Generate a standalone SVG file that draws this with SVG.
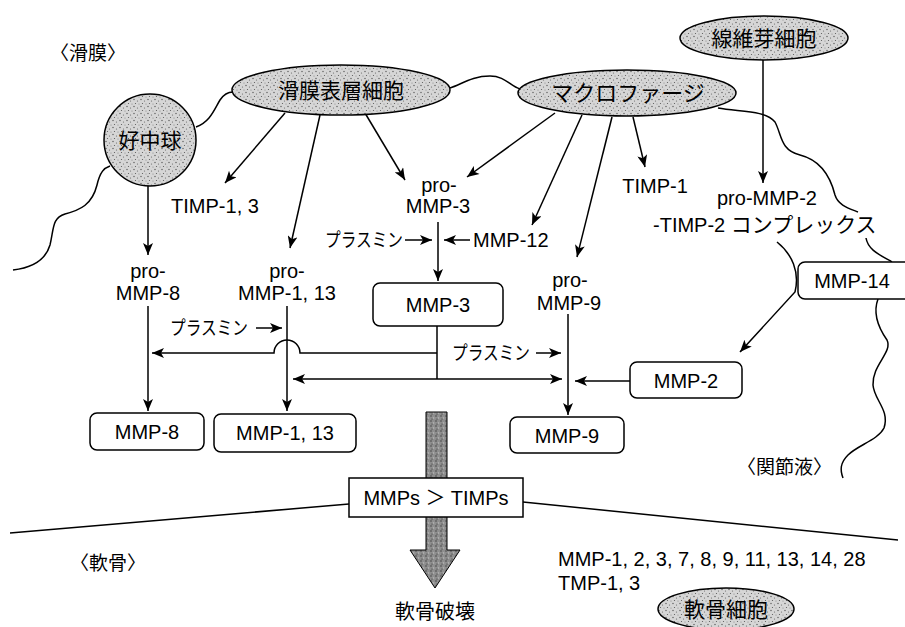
<svg xmlns="http://www.w3.org/2000/svg" width="905" height="627" viewBox="0 0 905 627">
<style>
.ln{fill:none;stroke:#000;stroke-width:1.5}
.ar{fill:none;stroke:#000;stroke-width:1.5;marker-end:url(#ah)}
.bx{fill:#fff;stroke:#000;stroke-width:1.5}
.cell{fill:url(#stip);stroke:#000;stroke-width:1.5}
.t{font-family:"Liberation Sans",Arial,"Noto Sans CJK JP",sans-serif;font-size:20px;fill:#000}
.j{font-family:"Noto Sans CJK JP","Noto Sans",sans-serif;font-size:21px;fill:#000}
.m{text-anchor:middle}
</style>
<defs>
<marker id="ah" viewBox="0 0 12 10" refX="12" refY="5" markerWidth="13" markerHeight="10" orient="auto" markerUnits="userSpaceOnUse">
<path d="M0,0 L12,5 L0,10 L3,5 z" fill="#000"/>
</marker>
<pattern id="stip" width="7" height="7" patternUnits="userSpaceOnUse">
<rect width="7" height="7" fill="#d6d6d6"/>
<circle cx="1" cy="1.5" r="0.7" fill="#555"/>
<circle cx="4.5" cy="3" r="0.6" fill="#666"/>
<circle cx="2.5" cy="5.5" r="0.6" fill="#555"/>
<circle cx="6" cy="6" r="0.5" fill="#777"/>
</pattern>
<pattern id="stip2" width="5" height="5" patternUnits="userSpaceOnUse">
<rect width="5" height="5" fill="#8e8e8e"/>
<circle cx="1" cy="1" r="0.8" fill="#444"/>
<circle cx="3.5" cy="3" r="0.8" fill="#bbb"/>
<circle cx="2" cy="4" r="0.6" fill="#333"/>
</pattern>
</defs>

<!-- membrane / boundary lines -->
<g id="boundaries">
<path class="ln" d="M13,270 C30,268 45,262 50,245 C54,228 52,218 65,214 C80,210 92,205 97,185 C100,172 104,168 110,166"/>
<path class="ln" d="M196,127 C210,122 214,110 220,100 C224,94 228,92 233,92"/>
<path class="ln" d="M450,88 C462,84 472,76 490,76 C505,76 510,86 520,89"/>
<path class="ln" d="M718,108 C740,112 765,110 775,122 C782,135 780,150 800,155 C820,160 830,175 835,195 C838,205 848,208 858,212"/>
<path class="ln" d="M866,238 C868,250 880,255 892,262"/>
<path class="ln" d="M878,299 C872,315 880,330 887,340 C893,352 872,365 873,385 C874,400 890,410 884,428 C878,440 858,445 848,455 C840,463 840,470 843,478"/>
<path class="ln" d="M10,533 L349,504"/>
<path class="ln" d="M523,502 L898,540"/>
</g>

<!-- big arrow -->
<g id="big-arrow">
<path d="M426,412 H447 V550 H460 L435,588 L410,550 H426 Z" fill="url(#stip2)" stroke="#000" stroke-width="1"/>
</g>

<!-- connectors -->
<g id="connectors">
<path class="ar" d="M148,183 V255"/>
<path class="ar" d="M285,113 L225,183"/>
<path class="ar" d="M320,115 L290,248"/>
<path class="ar" d="M365,113 L405,180"/>
<path class="ar" d="M555,113 L467,177"/>
<path class="ar" d="M582,115 L532,225"/>
<path class="ar" d="M612,117 L577,257"/>
<path class="ar" d="M633,117 L645,167"/>
<path class="ar" d="M763,60 V183"/>
<path class="ar" d="M438,222 V281"/>
<path class="ar" d="M405,240 H432"/>
<path class="ar" d="M470,240 H444"/>
<path class="ar" d="M148,306 V411"/>
<path class="ar" d="M287,306 V411"/>
<path class="ar" d="M568,314 V415"/>
<path class="ln" d="M437,326 V379"/>
<path class="ar" d="M437,353 H300 A13,13 0 0 0 274,353 H152"/>
<path class="ar" d="M437,379 H293"/>
<path class="ar" d="M437,379 H562"/>
<path class="ar" d="M256,328 H282"/>
<path class="ar" d="M536,353 H561"/>
<path class="ar" d="M630,381 H575"/>
<path class="ar" d="M777,242 C792,254 800,272 795,292 L740,352"/>
</g>

<!-- cells -->
<g id="neutrophil"><circle class="cell" cx="150" cy="140" r="46"/><text class="j m" x="150" y="148">好中球</text></g>
<g id="synovial-cell"><ellipse class="cell" cx="341" cy="90" rx="109" ry="25"/><text class="j m" x="341" y="98">滑膜表層細胞</text></g>
<g id="macrophage"><ellipse class="cell" cx="627" cy="93" rx="109" ry="23"/><text class="j m" x="628" y="101" style="font-size:22px">マクロファージ</text></g>
<g id="fibroblast"><ellipse class="cell" cx="764" cy="38" rx="84" ry="22"/><text class="j m" x="764" y="46">線維芽細胞</text></g>
<g id="chondrocyte"><ellipse class="cell" cx="726" cy="609" rx="68" ry="21"/><text class="j m" x="726" y="617">軟骨細胞</text></g>

<!-- boxes -->
<g id="mmp3"><rect class="bx" x="373" y="283" width="130" height="43" rx="7"/><text class="t m" x="438" y="312">MMP-3</text></g>
<g id="mmp8"><rect class="bx" x="90" y="413" width="114" height="37" rx="7"/><text class="t m" x="147" y="439">MMP-8</text></g>
<g id="mmp1-13"><rect class="bx" x="214" y="414" width="142" height="38" rx="7"/><text class="t m" x="285" y="440">MMP-1, 13</text></g>
<g id="mmp9"><rect class="bx" x="510" y="417" width="114" height="36" rx="7"/><text class="t m" x="567" y="443">MMP-9</text></g>
<g id="mmp2"><rect class="bx" x="630" y="362" width="112" height="36" rx="7"/><text class="t m" x="686" y="388">MMP-2</text></g>
<g id="mmp14"><rect class="bx" x="798" y="262" width="120" height="37" rx="7"/><text class="t m" x="852" y="288">MMP-14</text></g>
<g id="balance"><rect class="bx" x="349" y="478" width="174" height="39"/><text class="t m" x="436" y="505">MMPs ＞ TIMPs</text></g>

<!-- labels -->
<g id="labels">
<text class="j" x="50" y="60" style="font-size:19px">〈滑膜〉</text>
<text class="j" x="70" y="570" style="font-size:19px">〈軟骨〉</text>
<text class="j" x="737" y="474" style="font-size:19px">〈関節液〉</text>
<text class="j m" x="435" y="619" style="font-size:20px">軟骨破壊</text>
<text class="t m" x="215" y="213">TIMP-1, 3</text>
<text class="t m" x="148" y="278">pro-</text>
<text class="t m" x="148" y="300">MMP-8</text>
<text class="t m" x="287" y="278">pro-</text>
<text class="t m" x="287" y="300">MMP-1, 13</text>
<text class="t m" x="439" y="192">pro-</text>
<text class="t m" x="438" y="213">MMP-3</text>
<text class="t m" x="570" y="287">pro-</text>
<text class="t m" x="569" y="310">MMP-9</text>
<text class="t m" x="655" y="193">TIMP-1</text>
<text class="t m" x="767" y="205">pro-MMP-2</text>
<text class="t" x="653" y="232">-TIMP-2 <tspan style="font-family:'Noto Sans CJK JP',sans-serif;font-size:21px">コンプレックス</tspan></text>
<text class="t" x="473" y="247">MMP-12</text>
<text class="j" x="325" y="247" style="font-size:19px" textLength="78" lengthAdjust="spacingAndGlyphs">プラスミン</text>
<text class="j" x="170" y="335" style="font-size:19px" textLength="78" lengthAdjust="spacingAndGlyphs">プラスミン</text>
<text class="j" x="452" y="360" style="font-size:19px" textLength="78" lengthAdjust="spacingAndGlyphs">プラスミン</text>
<text class="t" x="558" y="566">MMP-1, 2, 3, 7, 8, 9, 11, 13, 14, 28</text>
<text class="t" x="558" y="590">TMP-1, 3</text>
</g>
</svg>
